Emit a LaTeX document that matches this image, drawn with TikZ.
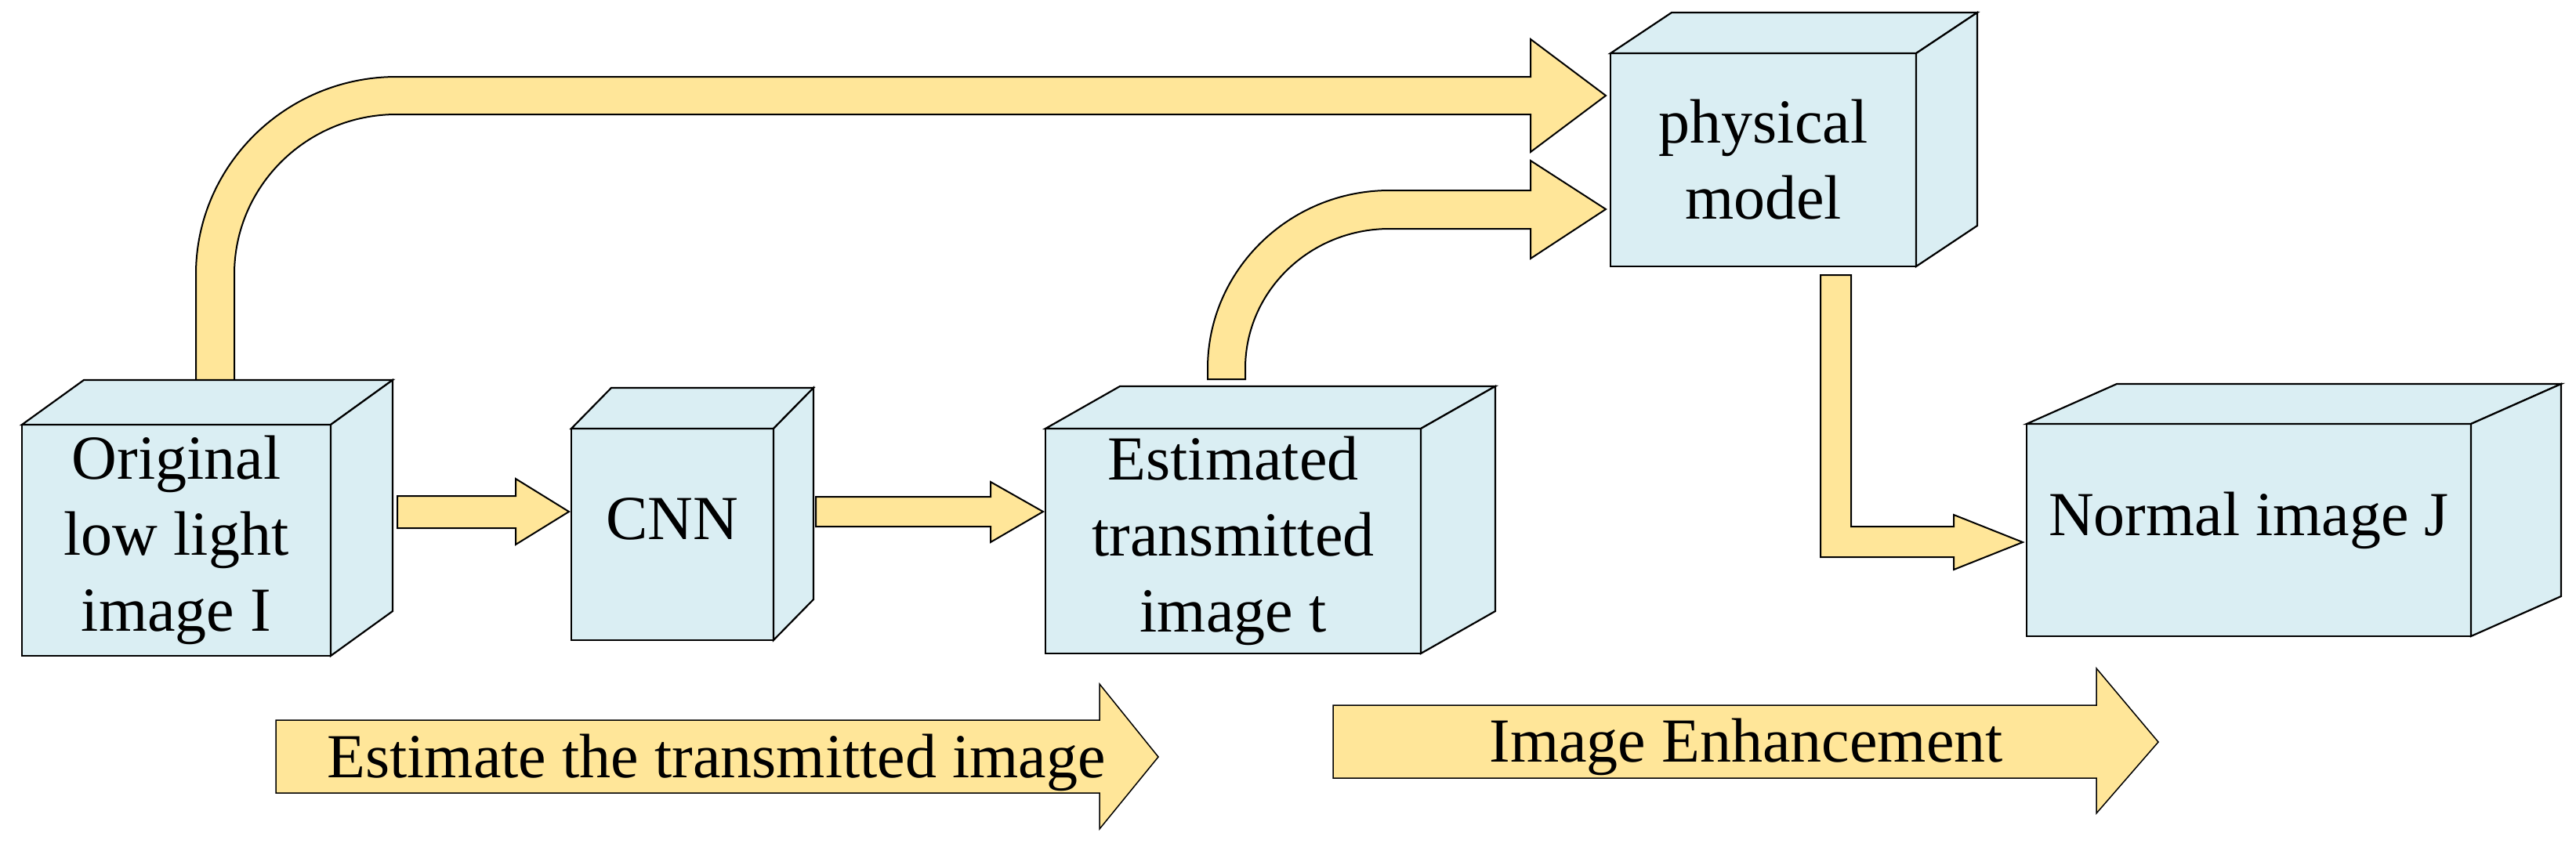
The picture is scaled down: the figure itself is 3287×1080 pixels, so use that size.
\documentclass[tikz,border=0pt]{standalone}
\usepackage{fontspec}
\setmainfont{Liberation Serif}
\usetikzlibrary{calc}
\definecolor{boxblue}{HTML}{DAEEF3}
\definecolor{arrowyel}{HTML}{FFE699}
\tikzset{
  cube/.style={draw=black, line width=2.2pt, fill=boxblue, inner sep=0pt, outer sep=0pt,
    anchor=north west, align=center, font=\fontsize{80}{97}\selectfont},
  boxface/.style={draw=black, line width=2.2pt, fill=boxblue, line join=miter},
  blockarrow/.style={draw=black, line width=2pt, fill=arrowyel, line join=miter},
  flowarrow/.style={draw=black, line width=1.5pt, fill=arrowyel, line join=miter},
  lbl/.style={font=\fontsize{80}{97}\selectfont, inner sep=0pt, anchor=base},
}
\newcommand\cubefaces[3]{%
  \draw[boxface] (#1.north west) -- ++(#2,#3) -- ($(#1.north east)+(#2,#3)$) -- (#1.north east) -- cycle;
  \draw[boxface] (#1.north east) -- ++(#2,#3) -- ($(#1.south east)+(#2,#3)$) -- (#1.south east) -- cycle;
}
\begin{document}
\begin{tikzpicture}[x=1pt,y=-1pt]
\useasboundingbox (0,0) rectangle (3287,1080);

% ---- connectors (block arrows) ----
% original -> physical model (top arc)
\draw[blockarrow] (250,542) -- (250,350) .. controls (250,211) and (365,98) .. (506,98)
  -- (1953,98) -- (1953,50) -- (2049,122) -- (1953,194) -- (1953,146) -- (506,146)
  .. controls (392,146) and (299,237) .. (299,350) -- (299,542) -- cycle;
% estimated -> physical model
\draw[blockarrow] (1541,484) -- (1541,470) .. controls (1541,345) and (1645,243) .. (1773,243)
  -- (1953,243) -- (1953,205) -- (2049,267) -- (1953,330) -- (1953,292) -- (1773,292)
  .. controls (1671,292) and (1589,372) .. (1589,470) -- (1589,484) -- cycle;
% original -> CNN
\draw[blockarrow] (507,633) -- (658,633) -- (658,611) -- (726,653) -- (658,695) -- (658,674) -- (507,674) -- cycle;
% CNN -> estimated
\draw[blockarrow] (1041,634) -- (1264,634) -- (1264,615) -- (1331,653) -- (1264,692) -- (1264,672) -- (1041,672) -- cycle;
% physical model -> normal image
\draw[blockarrow] (2323,351) -- (2362,351) -- (2362,672) -- (2493,672) -- (2493,657) -- (2581,692)
  -- (2493,727) -- (2493,711) -- (2323,711) -- cycle;

% ---- boxes ----
\node[cube, minimum width=394pt, minimum height=295pt] (orig) at (28,542) {Original\\low light\\image I};
\cubefaces{orig}{79}{-57}
\node[cube, minimum width=258pt, minimum height=270pt, text height=12pt, text depth=0pt] (cnn) at (729,547) {CNN};
\cubefaces{cnn}{51}{-52}
\node[cube, minimum width=479pt, minimum height=287pt] (est) at (1334,547) {Estimated\\transmitted\\image t};
\cubefaces{est}{95}{-54}
\node[cube, minimum width=390pt, minimum height=272pt] (phys) at (2055,68) {physical\\model};
\cubefaces{phys}{78}{-52}
\node[cube, minimum width=567pt, minimum height=271pt, text height=13pt, text depth=0pt] (norm) at (2586,541) {Normal image J};
\cubefaces{norm}{115}{-51}

% ---- stage arrows ----
\draw[flowarrow] (352,919) -- (1403,919) -- (1403,873) -- (1478,966) -- (1403,1058) -- (1403,1012) -- (352,1012) -- cycle;
\node[lbl] (stageA) at (914,992) {Estimate the transmitted image};
\draw[flowarrow] (1701,900) -- (2675,900) -- (2675,853) -- (2754,947) -- (2675,1038) -- (2675,993) -- (1701,993) -- cycle;
\node[lbl] (stageB) at (2228,972) {Image Enhancement};
\end{tikzpicture}
\end{document}
